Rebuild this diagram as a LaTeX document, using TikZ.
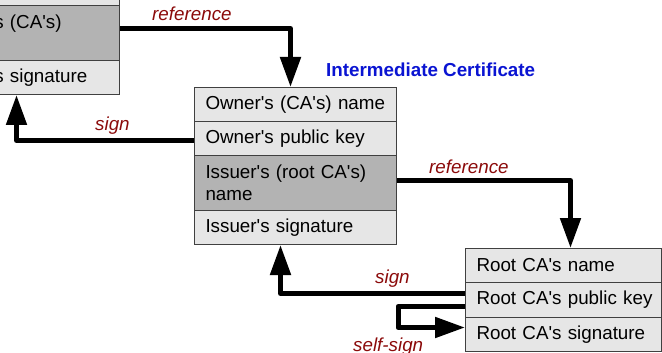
\documentclass[tikz,border=0pt]{standalone}
\usepackage{fontspec}
\setmainfont{Liberation Sans}[Ligatures=TeXOff]
\usetikzlibrary{arrows.meta}
\definecolor{rowlight}{HTML}{E6E6E6}
\definecolor{rowdark}{HTML}{B3B3B3}
\definecolor{cellborder}{HTML}{404040}
\definecolor{lblred}{HTML}{8B0A0A}
\definecolor{titleblue}{HTML}{0A14D2}
\begin{document}
\begin{tikzpicture}[x=1pt,y=-1pt,
  cell/.style={draw=cellborder, line width=1pt, anchor=north west, inner xsep=11pt, inner ysep=0pt,
    align=left, font=\fontsize{18.8}{22}\selectfont, text=black},
  light/.style={fill=rowlight},
  dark/.style={fill=rowdark},
  conn/.style={line width=5pt, line join=round, -{Triangle[length=30pt,width=20pt]}},
  lbl/.style={font=\fontsize{18.8}{22}\selectfont\itshape, text=lblred, inner sep=0pt, anchor=base west}]
\clip (0,0) rectangle (662,353);
% left (end-entity) certificate, cut by the frame
\node[cell, light, text width=169pt, minimum height=35pt] (L1) at (-72,-30) {};
\node[cell, dark, text width=169pt, minimum height=55pt] (L2) at (-72,5) {Issuer's (CA's)\\name};
\node[cell, light, text width=169pt, minimum height=34pt] (L3) at (-72,60) {Issuer's signature};
% intermediate certificate
\node[font=\fontsize{18.8}{22}\selectfont\bfseries, text=titleblue, inner sep=0pt, anchor=base west] (title) at (326,77) {Intermediate Certificate};
\node[cell, light, text width=180pt, minimum height=34pt] (I1) at (194,87) {Owner's (CA's) name};
\node[cell, light, text width=180pt, minimum height=34pt] (I2) at (194,121) {Owner's public key};
\node[cell, dark, text width=180pt, minimum height=55pt] (I3) at (194,155) {Issuer's (root CA's)\\name};
\node[cell, light, text width=180pt, minimum height=34pt] (I4) at (194,210) {Issuer's signature};
% root certificate
\node[cell, light, text width=174pt, minimum height=34pt] (R1) at (465,248) {\mbox{Root CA's name}};
\node[cell, light, text width=174pt, minimum height=35pt] (R2) at (465,282) {\mbox{Root CA's public key}};
\node[cell, light, text width=174pt, minimum height=34pt] (R3) at (465,317) {\mbox{Root CA's signature}};
% connectors
\draw[conn] ([yshift=4.5pt]L2.east) -| ([xshift=-5pt]I1.north);
\draw[conn] ([yshift=-2pt]I2.west) -| ([xshift=-7.5pt]L3.south);
\draw[conn] ([yshift=2.5pt]I3.east) -| ([xshift=7pt]R1.north);
\draw[conn] ([yshift=6.5pt]R2.west) -| ([xshift=-15pt]I4.south);
\draw[conn] ([yshift=-6.5pt]R2.west) -- ++(-67,0) |- ([yshift=7pt]R3.west);
% labels
\node[lbl] (lref1) at (152,21) {reference};
\node[lbl] (lsign1) at (95,131) {sign};
\node[lbl] (lref2) at (429,173) {reference};
\node[lbl] (lsign2) at (375,283) {sign};
\node[lbl] (lself) at (353,351) {self-sign};
\end{tikzpicture}
\end{document}
